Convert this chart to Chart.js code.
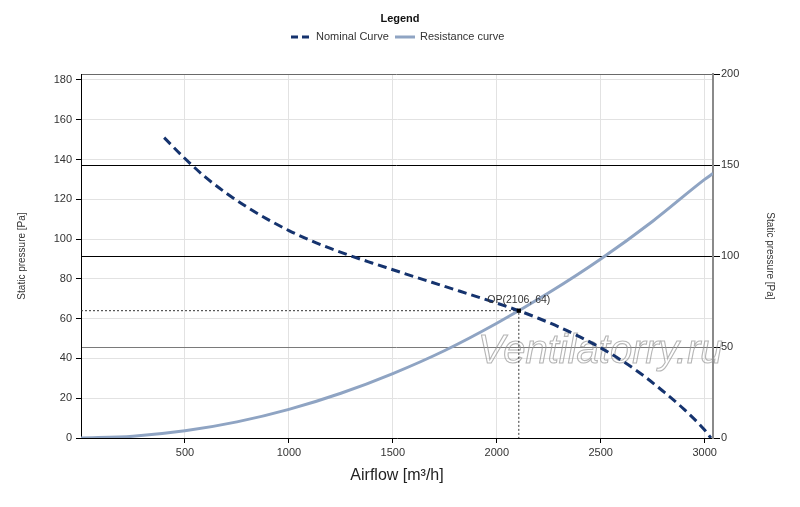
<!DOCTYPE html>
<html>
<head>
<meta charset="utf-8">
<script src="https://cdn.jsdelivr.net/npm/chart.js@4.4.1/dist/chart.umd.min.js"></script>
<style>
    html, body { margin: 0; padding: 0; background: #fff; }
    #wrap { width: 800px; height: 507px; position: relative; }
</style>
</head>
<body>
<div id="wrap"><canvas id="curvas"></canvas></div>
<script>
// airflow [m3/h] and static pressure [Pa]
const flujoNominal = [400, 500, 600, 700, 800, 900, 1000, 1100, 1200, 1300, 1400, 1500, 1600, 1750, 2000, 2106, 2200, 2300, 2400, 2500, 2600, 2700, 2800, 2900, 3000, 3030];
const presionNominal = [151, 140.5, 131, 123, 116, 109.8, 104.3, 99.5, 95.3, 91.5, 88, 84.6, 81.2, 76.2, 67.8, 64, 60.2, 55.8, 50.8, 45.3, 39, 31.8, 23.5, 14.5, 4, 0];
const flujoResist = [0, 250, 500, 750, 1000, 1250, 1500, 1750, 2000, 2250, 2500, 2750, 3000, 3040];
const presionResist = [0, 0.9, 3.6, 8.1, 14.4, 22.5, 32.4, 44, 57.7, 73, 90, 109, 130, 133];
const puntoOP = [2106, 64];
const ticksX = [500, 1000, 1500, 2000, 2500, 3000];
const ticksIzq = [0, 20, 40, 60, 80, 100, 120, 140, 160, 180];
const ticksDer = [0, 50, 100, 150, 200];

const azul = '#15336e';
const gris = '#8fa4c3';

const pares = (xs, ys) => xs.map((v, i) => ({ x: v, y: ys[i] }));

const lineasOP = [
    { x: 0, y: puntoOP[1] },
    { x: puntoOP[0], y: puntoOP[1] },
    { x: puntoOP[0], y: 0 }
];

const fuente = 'Liberation Sans, Arial, sans-serif';

const extras = {
    id: 'extras',
    beforeDatasetsDraw(chart) {
        const ctx = chart.ctx;
        ctx.save();
        ctx.font = 'italic 40px ' + fuente;
        ctx.textBaseline = 'alphabetic';
        ctx.textAlign = 'left';
        ctx.strokeStyle = 'rgba(150,150,150,0.7)';
        ctx.lineWidth = 1.1;
        ctx.strokeText('Ventilatorry.ru', 478, 363);
        ctx.restore();
    },
    afterDatasetsDraw(chart) {
        const ctx = chart.ctx;
        const px = chart.scales.x.getPixelForValue(puntoOP[0]);
        const py = chart.scales.y.getPixelForValue(puntoOP[1]);
        ctx.save();
        ctx.font = '10.5px ' + fuente;
        ctx.fillStyle = '#333';
        ctx.textAlign = 'center';
        ctx.textBaseline = 'alphabetic';
        ctx.fillText('OP(' + puntoOP[0] + ', ' + puntoOP[1] + ')', px, py - 8);
        ctx.restore();
    },
    afterDraw(chart) {
        const ctx = chart.ctx;
        ctx.save();
        ctx.fillStyle = '#111';
        ctx.textBaseline = 'middle';
        ctx.textAlign = 'center';
        ctx.font = 'bold 11px ' + fuente;
        ctx.fillText('Legend', 400, 19);

        ctx.lineWidth = 3;
        ctx.strokeStyle = azul;
        ctx.setLineDash([7, 4]);
        ctx.beginPath();
        ctx.moveTo(291, 37);
        ctx.lineTo(312, 37);
        ctx.stroke();

        ctx.setLineDash([]);
        ctx.strokeStyle = gris;
        ctx.beginPath();
        ctx.moveTo(395, 37);
        ctx.lineTo(415, 37);
        ctx.stroke();

        ctx.font = '11px ' + fuente;
        ctx.fillStyle = '#333';
        ctx.textAlign = 'left';
        ctx.fillText('Nominal Curve', 316, 37);
        ctx.fillText('Resistance curve', 420, 37);
        ctx.restore();
    }
};

const ctx = document.getElementById('curvas').getContext('2d');
const chart = new Chart(ctx, {
    type: 'line',
    data: {
        datasets: [
            {
                label: 'OP',
                data: [{ x: puntoOP[0], y: puntoOP[1] }],
                showLine: false,
                pointStyle: 'rect',
                pointRadius: 3,
                backgroundColor: '#000',
                borderColor: '#000',
                borderWidth: 0,
                order: 0
            },
            {
                label: 'Nominal Curve',
                data: pares(flujoNominal, presionNominal),
                borderColor: azul,
                borderWidth: 3,
                borderDash: [9, 5],
                pointRadius: 0,
                cubicInterpolationMode: 'monotone',
                order: 1
            },
            {
                label: 'Resistance curve',
                data: pares(flujoResist, presionResist),
                borderColor: gris,
                borderWidth: 3,
                pointRadius: 0,
                cubicInterpolationMode: 'monotone',
                order: 2
            },
            {
                label: 'OP lines',
                data: lineasOP,
                borderColor: '#333',
                borderWidth: 1,
                borderDash: [2, 2],
                pointRadius: 0,
                tension: 0,
                order: 3
            }
        ]
    },
    options: {
        responsive: true,
        maintainAspectRatio: false,
        animation: false,
        layout: { padding: { top: 74, left: 0, right: 0, bottom: 0 } },
        scales: {
            x: {
                type: 'linear',
                min: 0,
                max: 3040,
                afterBuildTicks: s => { s.ticks = ticksX.map(v => ({ value: v })); },
                afterFit: s => { s.height = 69; },
                grid: { color: '#e2e2e2', tickColor: '#000', tickLength: 5 },
                border: { color: '#000', width: 1 },
                ticks: {
                    color: '#333',
                    font: { family: fuente, size: 11 },
                    padding: 3,
                    maxRotation: 0,
                    callback: v => String(v)
                },
                title: {
                    display: true,
                    text: 'Airflow [m³/h]',
                    color: '#222',
                    font: { family: fuente, size: 16 },
                    padding: { top: 22, bottom: 22 }
                }
            },
            y: {
                position: 'left',
                min: 0,
                max: 183,
                afterBuildTicks: s => { s.ticks = ticksIzq.map(v => ({ value: v })); },
                afterFit: s => { s.width = 81; },
                grid: { color: '#e2e2e2', tickColor: '#000', tickLength: 5 },
                border: { color: '#000', width: 1 },
                ticks: { color: '#333', font: { family: fuente, size: 11 }, padding: 4, callback: v => String(v) },
                title: {
                    display: true,
                    text: 'Static pressure [Pa]',
                    color: '#333',
                    font: { family: fuente, size: 10 },
                    padding: { top: 16, bottom: 16 }
                }
            },
            y2: {
                position: 'right',
                min: 0,
                max: 200,
                afterBuildTicks: s => { s.ticks = ticksDer.map(v => ({ value: v })); },
                afterFit: s => { s.width = 87; },
                grid: {
                    color: c => {
                        const v = c.tick ? c.tick.value : null;
                        if (v === 0) return 'rgba(0,0,0,0)';
                        if (v === 50) return '#7a7a7a';
                        if (v === 200) return '#6a6a6a';
                        return '#000';
                    },
                    tickColor: '#000',
                    tickLength: 7
                },
                border: { color: '#8a8a8a', width: 2 },
                ticks: { color: '#333', font: { family: fuente, size: 11 }, padding: 1, callback: v => String(v) },
                title: {
                    display: true,
                    text: 'Static pressure [Pa]',
                    color: '#333',
                    font: { family: fuente, size: 10 },
                    padding: { top: 24, bottom: 24 }
                }
            }
        },
        plugins: {
            legend: { display: false },
            tooltip: { enabled: false }
        }
    },
    plugins: [extras]
});
</script>
</body>
</html>
